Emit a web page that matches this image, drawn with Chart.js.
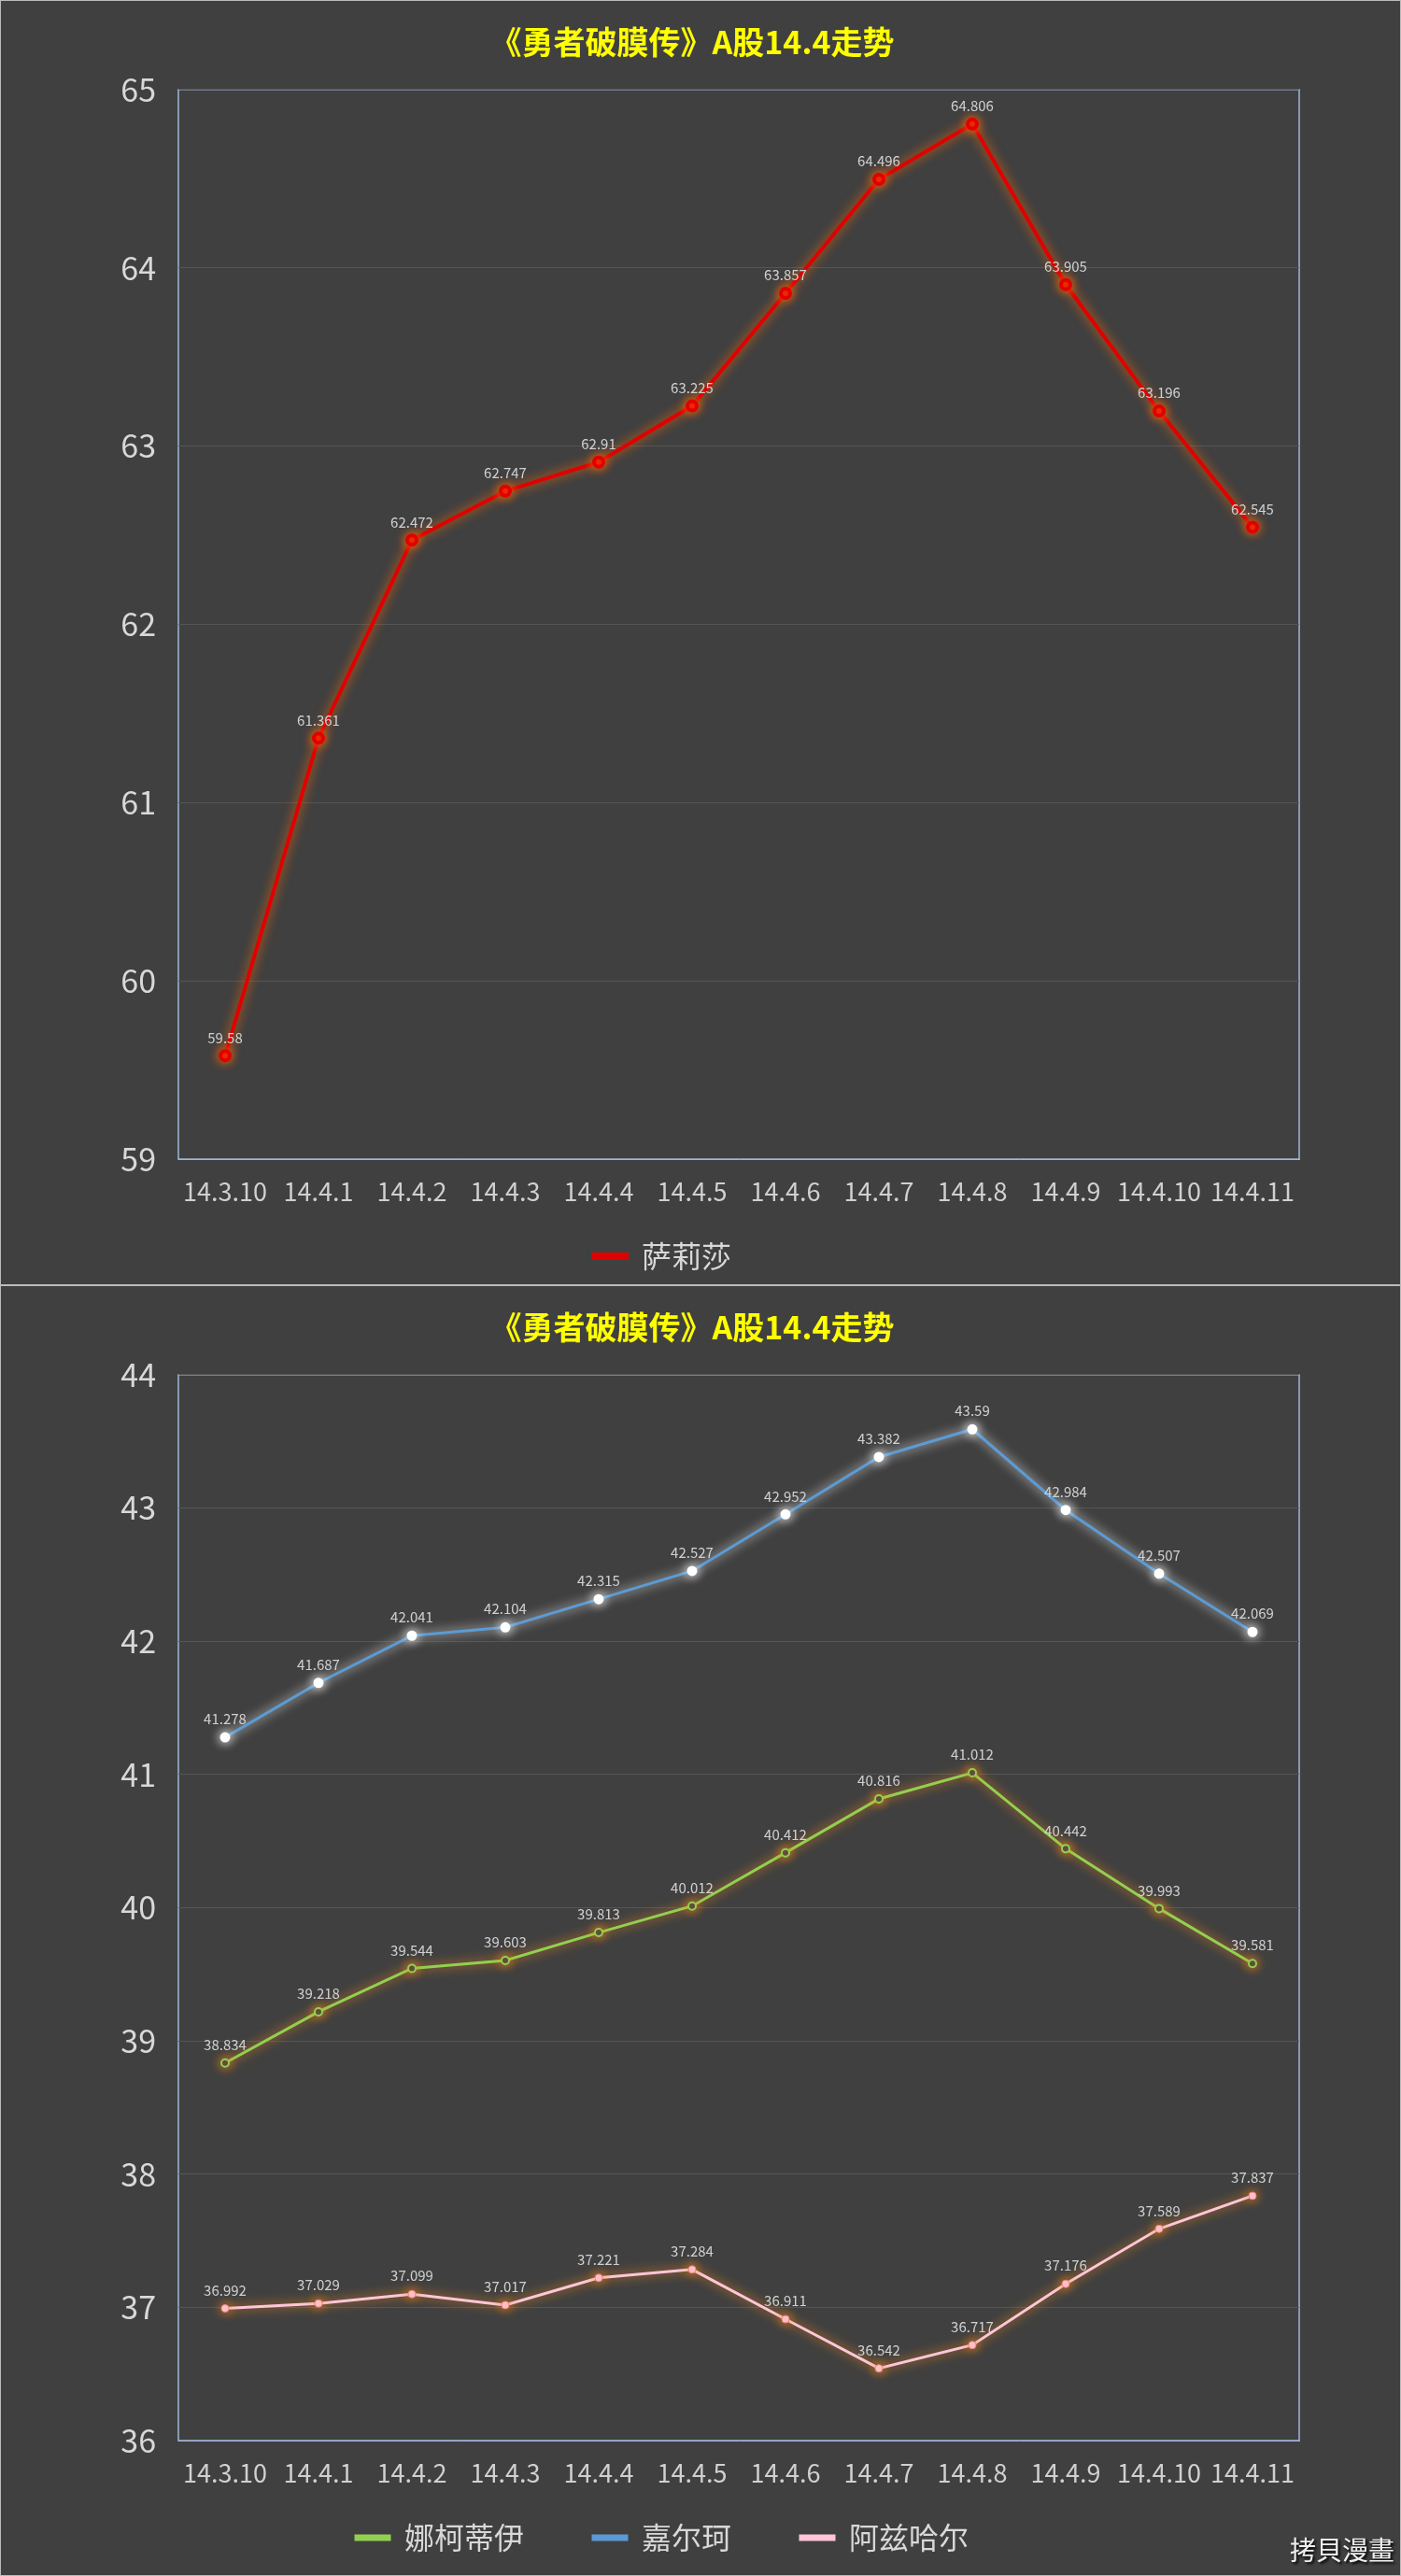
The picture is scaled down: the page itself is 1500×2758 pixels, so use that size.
<!DOCTYPE html>
<html lang="zh">
<head>
<meta charset="UTF-8" />
<script src="https://cdn.jsdelivr.net/npm/chart.js"></script>
<style>
  body { margin: 0; background: #404040; width: 1500px; height: 2758px; position: relative; overflow: hidden; font-family: 'Noto Sans CJK SC', sans-serif; }
  .panel { position: absolute; left: 0; width: 1500px; border: 1px solid #bbb; box-sizing: border-box; background: #404040; }
  #p1 { top: 0; height: 1376px; }
  #p2 { top: 1376px; height: 1382px; }
  .mark { position: absolute; right: 6px; bottom: 8px; color: #eee; font-size: 28px; text-shadow: 2px 2px 3px #000; }
</style>
</head>
<body>
<div class="panel" id="p1"><canvas id="c1"></canvas></div>
<div class="panel" id="p2"><canvas id="c2"></canvas><div class="mark">拷貝漫畫</div></div>

<script>
  const labels = ['14.3.10','14.4.1','14.4.2','14.4.3','14.4.4','14.4.5','14.4.6','14.4.7','14.4.8','14.4.9','14.4.10','14.4.11'];
  const salisha = [59.58, 61.361, 62.472, 62.747, 62.91, 63.225, 63.857, 64.496, 64.806, 63.905, 63.196, 62.545];
  const nakediyi = [38.834, 39.218, 39.544, 39.603, 39.813, 40.012, 40.412, 40.816, 41.012, 40.442, 39.993, 39.581];
  const jiaerke = [41.278, 41.687, 42.041, 42.104, 42.315, 42.527, 42.952, 43.382, 43.59, 42.984, 42.507, 42.069];
  const aziha = [36.992, 37.029, 37.099, 37.017, 37.221, 37.284, 36.911, 36.542, 36.717, 37.176, 37.589, 37.837];
  const titleText = '《勇者破膜传》A股14.4走势';

  const font = "'Noto Sans CJK SC', 'Noto Sans', sans-serif";

  // glow under each line + value labels above points
  const glowLabels = {
    id: 'glowLabels',
    beforeDatasetDraw(chart, args) {
      const ds = chart.data.datasets[args.index];
      chart.ctx.save();
      chart.ctx.shadowColor = ds.glow;
      chart.ctx.shadowBlur = 12;
    },
    afterDatasetDraw(chart, args) {
      chart.ctx.restore();
      const ctx = chart.ctx;
      const ds = chart.data.datasets[args.index];
      const meta = chart.getDatasetMeta(args.index);
      ctx.save();
      ctx.font = '15px ' + font;
      ctx.fillStyle = '#d0d0d0';
      ctx.textAlign = 'center';
      ctx.textBaseline = 'bottom';
      meta.data.forEach((pt, i) => ctx.fillText(String(ds.data[i]), pt.x, pt.y - 12));
      ctx.restore();
    },
    beforeDraw(chart) {
      const a = chart.chartArea, ctx = chart.ctx;
      ctx.save();
      ctx.strokeStyle = '#9fb6d6';
      ctx.lineWidth = 1.5;
      ctx.strokeRect(a.left, a.top, a.right - a.left, a.bottom - a.top);
      ctx.restore();
    }
  };

  function makeChart(id, datasets, min, max, height, bottomPad) {
    const el = document.getElementById(id);
    el.style.width = '1498px';
    el.style.height = height + 'px';
    return new Chart(el, {
      type: 'line',
      data: { labels, datasets },
      plugins: [glowLabels],
      options: {
        responsive: false,
        animation: false,
        devicePixelRatio: 1,
        layout: { padding: { left: 90, right: 108, top: 10, bottom: bottomPad } },
        plugins: {
          title: { display: true, text: titleText, color: '#ffff00', font: { family: font, size: 34, weight: 'bold' }, padding: { top: 14, bottom: 30 } },
          legend: {
            position: 'bottom',
            labels: {
              color: '#d8d8d8', font: { family: font, size: 32 }, boxWidth: 36, boxHeight: 4, padding: 10,
              generateLabels: chart => Chart.defaults.plugins.legend.labels.generateLabels(chart).map(l => ({ ...l, text: l.text + '\u3000\u3000' }))
            },
          },
          tooltip: { enabled: false }
        },
        scales: {
          x: {
            offset: true,
            grid: { display: false },
            border: { color: '#9fb6d6' },
            ticks: { color: '#d0d0d0', font: { family: font, size: 27 }, padding: 11, maxRotation: 0 },
            afterFit: s => { s.height = 78; }
          },
          y: {
            min, max,
            ticks: { stepSize: 1, color: '#d8d8d8', font: { family: font, size: 34 }, padding: 24 },
            grid: { color: '#555555', drawTicks: false },
            border: { display: false },
            afterFit: s => { s.width = 100; }
          }
        }
      }
    });
  }

  makeChart('c1', [
    { label: '萨莉莎', data: salisha, borderColor: '#e00000', backgroundColor: '#e00000', glow: '#ff6a00', borderWidth: 4, pointRadius: 5, pointBackgroundColor: '#e00000', pointBorderColor: '#e00000', tension: 0 }
  ], 59, 65, 1374, 4);

  makeChart('c2', [
    { label: '娜柯蒂伊', data: nakediyi, borderColor: '#92d050', backgroundColor: '#92d050', glow: '#ff8c1a', borderWidth: 3, pointRadius: 4, pointBackgroundColor: '#404040', pointBorderColor: '#92d050', pointBorderWidth: 2, tension: 0 },
    { label: '嘉尔珂', data: jiaerke, borderColor: '#5b9bd5', backgroundColor: '#5b9bd5', glow: '#ffffff', borderWidth: 3, pointRadius: 4, pointBackgroundColor: '#ffffff', pointBorderColor: '#ffffff', tension: 0 },
    { label: '阿兹哈尔', data: aziha, borderColor: '#ffc6d9', backgroundColor: '#ffc6d9', glow: '#ff8c1a', borderWidth: 3, pointRadius: 4, pointBackgroundColor: '#ffc6d9', pointBorderColor: '#f08080', pointBorderWidth: 1, tension: 0 }
  ], 36, 44, 1380, 14);
</script>
</body>
</html>
